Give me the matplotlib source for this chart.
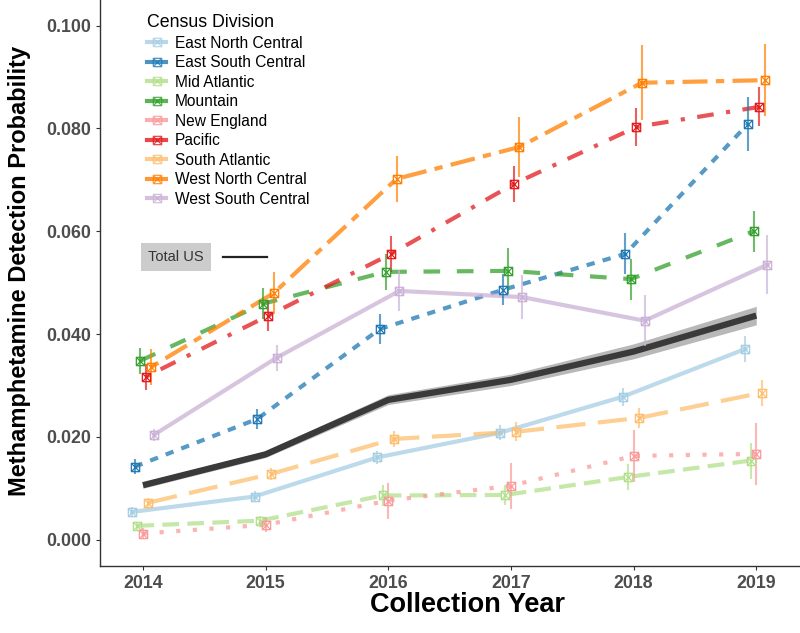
import matplotlib.pyplot as plt
from matplotlib.path import Path
from matplotlib.lines import Line2D

plt.rcParams['font.family'] = ['Liberation Sans', 'DejaVu Sans']

years = [2014, 2015, 2016, 2017, 2018, 2019]

divisions = ['East North Central', 'East South Central', 'Mid Atlantic', 'Mountain',
             'New England', 'Pacific', 'South Atlantic', 'West North Central',
             'West South Central']
colors = ['#a6cee3', '#1f78b4', '#b2df8a', '#33a02c', '#fb9a99',
          '#e31a1c', '#fdbf6f', '#ff7f00', '#cab2d6']
# ggplot style linetypes: solid, 22, 42, 44, 13, 1343, 73, 2262
dash_styles = [None, (2, 2), (4, 2), (4, 4), (1, 3), (1, 3, 4, 3), (7, 3), (2, 2, 6, 2), None]

# detection probability per division (rows follow `divisions`)
prob = [
    [0.0054, 0.0084, 0.0160, 0.0208, 0.0278, 0.0371],
    [0.0142, 0.0235, 0.0410, 0.0486, 0.0556, 0.0809],
    [0.0027, 0.0037, 0.0086, 0.0087, 0.0122, 0.0154],
    [0.0348, 0.0459, 0.0521, 0.0523, 0.0507, 0.0600],
    [0.0012, 0.0029, 0.0076, 0.0105, 0.0163, 0.0167],
    [0.0317, 0.0436, 0.0556, 0.0692, 0.0803, 0.0842],
    [0.0072, 0.0128, 0.0196, 0.0210, 0.0237, 0.0286],
    [0.0336, 0.0480, 0.0702, 0.0764, 0.0889, 0.0894],
    [0.0204, 0.0354, 0.0484, 0.0472, 0.0426, 0.0535],
]
# half width of the error bars
half_ci = [
    [0.0010, 0.0010, 0.0012, 0.0015, 0.0018, 0.0025],
    [0.0015, 0.0020, 0.0030, 0.0030, 0.0040, 0.0052],
    [0.0008, 0.0010, 0.0020, 0.0020, 0.0025, 0.0035],
    [0.0025, 0.0030, 0.0035, 0.0045, 0.0040, 0.0040],
    [0.0010, 0.0015, 0.0035, 0.0045, 0.0050, 0.0060],
    [0.0025, 0.0030, 0.0035, 0.0035, 0.0037, 0.0038],
    [0.0010, 0.0012, 0.0015, 0.0018, 0.0020, 0.0025],
    [0.0035, 0.0040, 0.0045, 0.0058, 0.0073, 0.0070],
    [0.0012, 0.0025, 0.0040, 0.0043, 0.0050, 0.0057],
]

total_us = [0.0106, 0.0166, 0.0272, 0.0311, 0.0366, 0.0436]
total_lo = [0.0100, 0.0160, 0.0263, 0.0300, 0.0352, 0.0418]
total_hi = [0.0112, 0.0173, 0.0282, 0.0322, 0.0381, 0.0454]

# square with a cross in it
box_x = Path([(-1, -1), (1, -1), (1, 1), (-1, 1), (-1, -1), (-1, -1), (1, 1), (-1, 1), (1, -1)],
             [Path.MOVETO, Path.LINETO, Path.LINETO, Path.LINETO, Path.LINETO,
              Path.MOVETO, Path.LINETO, Path.MOVETO, Path.LINETO])

fig = plt.figure(figsize=(8, 6.33), dpi=100)
ax = fig.add_axes([0.125, 0.106, 0.874, 0.894])

ax.fill_between(years, total_lo, total_hi, color='#9a9a9a', alpha=0.7, lw=0, zorder=2)
ax.plot(years, total_us, color='#3a3a3a', lw=4.5, solid_capstyle='butt', zorder=3)

dodge = 0.0225
handles = []
for i, name in enumerate(divisions):
    xs = [y + (i - 4) * dodge for y in years]
    ls = '-' if dash_styles[i] is None else (0, dash_styles[i])
    ax.plot(xs, prob[i], color=colors[i], lw=3, ls=ls, alpha=0.75, zorder=4)
    ax.errorbar(xs, prob[i], yerr=half_ci[i], fmt='none', ecolor=colors[i],
                elinewidth=1.5, alpha=0.7, capsize=0, zorder=5)
    ax.plot(xs, prob[i], ls='none', marker=box_x, ms=6, mfc='none', mec=colors[i],
            mew=0.9, zorder=6)
    handles.append(Line2D([], [], color=colors[i], lw=3, alpha=0.8, marker=box_x,
                          ms=6, mfc='none', mec=colors[i], mew=0.9))

leg = ax.legend(handles, divisions, title='Census Division', loc='upper left',
                bbox_to_anchor=(0.052, 0.994), frameon=False, fontsize=11.2,
                title_fontsize=12.8, handlelength=1.2, labelspacing=0.29,
                handletextpad=0.6, borderpad=0.2)
leg._legend_box.align = 'left'

ax.text(0.069, 0.546, 'Total US', transform=ax.transAxes, fontsize=10.5, color='#333333',
        va='center', ha='left',
        bbox=dict(boxstyle='square,pad=0.5', fc='#cccccc', ec='none'))
ax.plot([0.176, 0.239], [0.546, 0.546], transform=ax.transAxes, color='#222222', lw=1.6)

ax.set_xlim(2013.65, 2019.35)
ax.set_ylim(-0.0051, 0.105)
ax.set_xticks(years)
ax.set_yticks([0.0, 0.02, 0.04, 0.06, 0.08, 0.10])
ax.set_yticklabels(['0.000', '0.020', '0.040', '0.060', '0.080', '0.100'])

for s in ['top', 'right']:
    ax.spines[s].set_visible(False)
for s in ['left', 'bottom']:
    ax.spines[s].set_color('#333333')
    ax.spines[s].set_linewidth(1.0)
ax.tick_params(colors='#333333', length=3, width=0.8, labelsize=12.8)
for lab in ax.get_xticklabels() + ax.get_yticklabels():
    lab.set_fontweight('bold')
    lab.set_color('#4d4d4d')

ax.set_xlabel('Collection Year', fontsize=19.5, fontweight='bold')
ax.set_ylabel('Methamphetamine Detection Probability', fontsize=17, fontweight='bold')
ax.xaxis.set_label_coords(0.526, -0.069, transform=ax.transAxes)
ax.yaxis.set_label_coords(-0.1155, 0.521, transform=ax.transAxes)
ax.xaxis.label.set_va('center')
ax.yaxis.label.set_va('center')

fig.savefig('out.png', dpi=100)
